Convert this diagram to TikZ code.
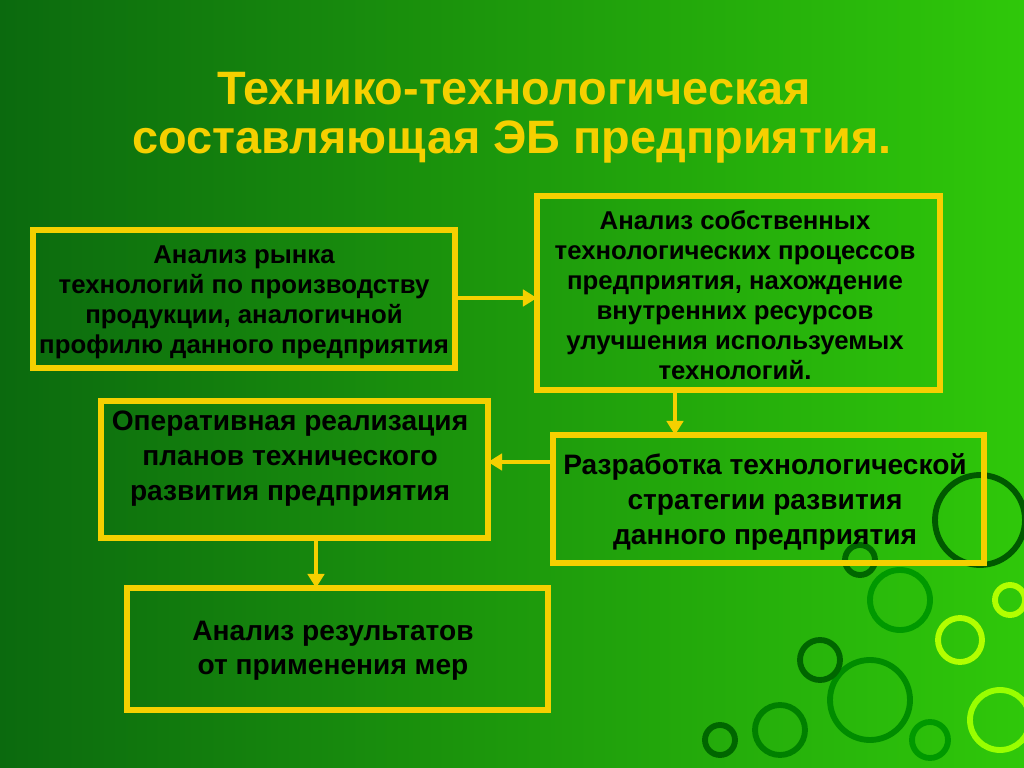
\documentclass[tikz,border=0pt]{standalone}
\usepackage{fontspec}
\setmainfont{Liberation Sans}
\usetikzlibrary{arrows.meta,shadows}
\definecolor{ylw}{HTML}{F5D000}
\definecolor{bgd}{HTML}{0B6A0E}
\definecolor{bgl}{HTML}{2FC80A}
\begin{document}
\begin{tikzpicture}[x=0.03cm,y=-0.03cm,
  box/.style={draw=ylw,line width=4.5pt,inner sep=0pt},
  txt/.style={align=center,font=\bfseries\fontsize{22}{25.5}\selectfont,text=black},
  big/.style={align=center,font=\bfseries\fontsize{24}{29.8}\selectfont,text=black},
  arr/.style={draw=ylw,line width=4pt,-{Triangle[length=12pt,width=14pt]}},
  ttl/.style={align=center,font=\bfseries\fontsize{40}{46}\selectfont,text=ylw}]
\shade[left color=bgd,right color=bgl] (0,0) rectangle (1024,768);
\useasboundingbox (0,0) rectangle (1024,768);
% decorative circles
\begin{scope}[line width=5pt]
\foreach \x/\y/\r/\c in {980/520/45/green!35!black, 900/600/30/green!60!black, 960/640/22/green!30!yellow, 870/700/40/green!55!black, 1000/720/30/green!40!yellow, 930/740/18/green!60!black, 820/660/20/green!40!black, 780/730/25/green!50!black, 1010/600/15/green!30!yellow, 860/560/15/green!40!black, 720/740/15/green!40!black}
  \draw[\c] (\x,\y) circle (\r);
\end{scope}
% title
\node[ttl] (t1) at (514,89) {Технико-технологическая};
\node[ttl] (t2) at (512,142) {составляющая ЭБ предприятия.};
% boxes
\draw[box] (33,230) rectangle (455,368);
\node[txt] (b1) at (244,302) {Анализ рынка\\технологий по производству\\продукции, аналогичной\\профилю данного предприятия};
\coordinate (b1r) at (455,298);
\draw[box] (537,196) rectangle (940,390);
\node[txt] (b2) at (735,295) {Анализ собственных\\технологических процессов\\предприятия, нахождение\\внутренних ресурсов\\улучшения используемых\\технологий.};
\coordinate (b2l) at (537,298);
\coordinate (b2b) at (675,390);
\draw[box] (101,401) rectangle (488,538);
\node[big] (b3) at (290,459) {Оперативная реализация\\планов технического\\развития предприятия};
\coordinate (b3r) at (488,462);
\coordinate (b3b) at (316,538);
\draw[box] (553,435) rectangle (984,563);
\node[big] (b4) at (765,502) {Разработка технологической\\стратегии развития\\данного предприятия};
\coordinate (b4t) at (675,435);
\coordinate (b4l) at (553,462);
\draw[box] (127,588) rectangle (548,710);
\node[big,font=\bfseries\fontsize{24}{29}\selectfont] (b5) at (333,651) {Анализ результатов\\от применения мер};
\coordinate (b5t) at (316,588);
% arrows
\draw[arr] (b1r) -- (b2l);
\draw[arr] (b2b) -- (b4t);
\draw[arr] (b4l) -- (b3r);
\draw[arr] (b3b) -- (b5t);
\end{tikzpicture}
\end{document}
